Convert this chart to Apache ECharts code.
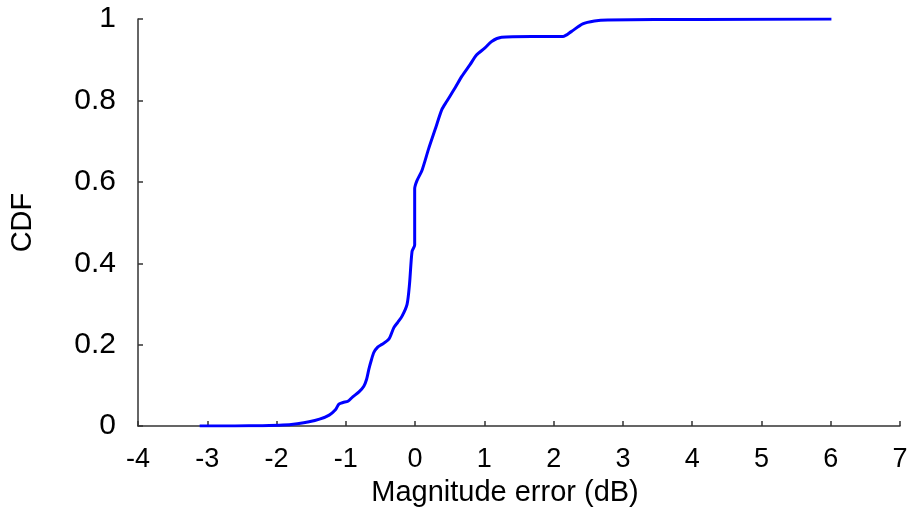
<!DOCTYPE html>
<html>
<head>
<meta charset="utf-8">
<script src="https://cdn.jsdelivr.net/npm/echarts@6/dist/echarts.min.js"></script>
<style>html,body{margin:0;padding:0;background:#fff}#c{width:915px;height:512px}</style>
</head>
<body>
<div id="c"></div>
<script>
const errX = [-3.11, -2.6, -2.2, -1.91, -1.7, -1.53, -1.38, -1.24, -1.15, -1.10, -1.04, -0.97, -0.9, -0.81, -0.74, -0.70, -0.667, -0.63, -0.595, -0.54, -0.476, -0.379, -0.307, -0.25, -0.188, -0.116, -0.08, -0.044, -0.006, -0.006, 0.027, 0.099, 0.195, 0.29, 0.387, 0.458, 0.578, 0.674, 0.793, 0.889, 1.009, 1.105, 1.249, 1.68, 2.135, 2.254, 2.42, 2.589, 2.78, 4.12, 6.01];
const cdfY = [0, 0.0004, 0.001, 0.0025, 0.006, 0.0105, 0.017, 0.027, 0.04, 0.054, 0.058, 0.061, 0.072, 0.084, 0.098, 0.115, 0.14, 0.163, 0.181, 0.194, 0.201, 0.2135, 0.242, 0.255, 0.27, 0.299, 0.35, 0.429, 0.445, 0.583, 0.603, 0.628, 0.681, 0.729, 0.778, 0.798, 0.831, 0.859, 0.888, 0.912, 0.929, 0.945, 0.955, 0.957, 0.957, 0.969, 0.988, 0.995, 0.9975, 0.999, 1.0];
const xTicks = { min: -4, max: 7, interval: 1 };
const yTicks = { min: 0, max: 1, interval: 0.2 };

const chart = echarts.init(document.getElementById('c'), null, { renderer: 'canvas' });
const axisLineStyle = { color: '#333', width: 1.5 };
chart.setOption({
  animation: false,
  backgroundColor: '#fff',
  grid: { left: 135, right: 15, top: 19, bottom: 83 },
  xAxis: {
    type: 'value',
    min: xTicks.min, max: xTicks.max, interval: xTicks.interval,
    name: 'Magnitude error (dB)',
    nameLocation: 'middle',
    nameGap: 47,
    nameTextStyle: { fontFamily: 'Liberation Sans', fontSize: 29, color: '#000', padding: [0, 28, 0, 0] },
    axisLine: { show: true, onZero: false, lineStyle: axisLineStyle },
    axisTick: { show: true, inside: true, length: 5, lineStyle: axisLineStyle },
    axisLabel: { fontFamily: 'Liberation Sans', fontSize: 27, color: '#000', margin: 20 },
    splitLine: { show: false }
  },
  yAxis: {
    type: 'value',
    min: yTicks.min, max: yTicks.max, interval: yTicks.interval,
    name: 'CDF',
    nameLocation: 'middle',
    nameGap: 101,
    nameTextStyle: { fontFamily: 'Liberation Sans', fontSize: 29, color: '#000' },
    axisLine: { show: true, onZero: false, lineStyle: axisLineStyle },
    axisTick: { show: true, inside: true, length: 5, lineStyle: axisLineStyle },
    axisLabel: { fontFamily: 'Liberation Sans', fontSize: 30, color: '#000', margin: 22,
      formatter: v => String(Math.round(v * 10) / 10) },
    splitLine: { show: false }
  },
  series: [{
    type: 'line',
    data: errX.map((x, i) => [x, cdfY[i]]),
    showSymbol: false,
    smooth: 0.25,
    lineStyle: { color: '#0000ff', width: 3 },
    itemStyle: { color: '#0000ff' }
  }]
});
</script>
</body>
</html>
